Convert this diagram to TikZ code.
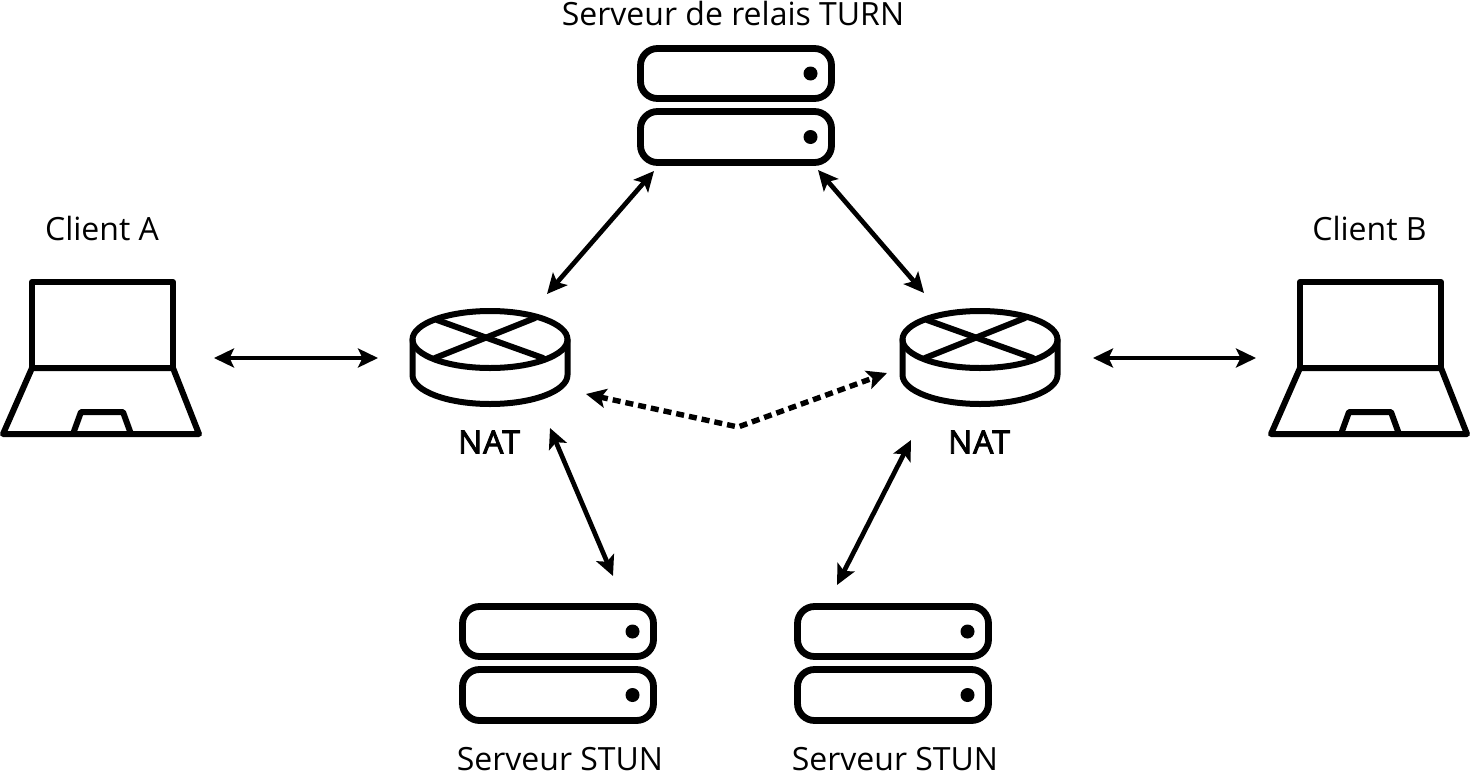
\documentclass[tikz,border=0pt]{standalone}
\usepackage{fontspec}
\setmainfont{Open Sans}
\newfontfamily\natfont[LetterSpace=3]{Open Sans}
\usetikzlibrary{arrows.meta}
\newcommand{\px}{0.75pt}
\newcommand{\heavy}[1]{\special{pdf:code 2 Tr 0.7 w}#1\special{pdf:code 0 Tr 1 w}}
\tikzset{
  icon/.style={line width=6*\px, line join=round, line cap=round, fill=none},
  srvbox/.style={line width=6.8*\px, rounded corners=17*\px},
  link/.style={line width=4.7*\px, black, {Stealth[length=20*\px,width=19*\px,inset=4.5*\px]}-{Stealth[length=20*\px,width=19*\px,inset=4.5*\px]}},
  dashlink/.style={link, line width=5.4*\px, dash pattern=on 8*\px off 5*\px},
  lbl/.style={font=\fontsize{24pt}{28pt}\selectfont, inner sep=0pt, anchor=base},
  natlbl/.style={font=\natfont\fontsize{24pt}{28pt}\selectfont, inner sep=0pt, anchor=base},
}
\newcommand{\laptop}[1]{%
  \begin{scope}[shift={(#1,0)}]
    \draw[icon] (32,368) -- (32,282) -- (173,282) -- (173,368);
    \draw[icon] (32,368) -- (173,368) -- (199,434) -- (3,434) -- cycle;
    \draw[icon] (73,434) -- (81,412) -- (123,412) -- (131,434);
  \end{scope}}
\newcommand{\router}[1]{%
  \begin{scope}[shift={(#1,0)}]
    \draw[icon] (490,339.5) ellipse [x radius=77.5, y radius=28.5];
    \draw[icon] (412.5,339.5) -- (412.5,375) arc [start angle=180, end angle=0, x radius=77.5, y radius=29] -- (567.5,339.5);
    \draw[icon] (437,320) -- (543,358);
    \draw[icon] (435,358) -- (535,318);
  \end{scope}}
\newcommand{\server}[2]{%
  \begin{scope}[shift={(#1,#2)}]
    \draw[srvbox] (640.5,48.5) rectangle (831.5,98.5);
    \draw[srvbox] (640.5,111.5) rectangle (831.5,162.5);
    \fill (810.5,73.5) circle [radius=7];
    \fill (810.5,137) circle [radius=7];
  \end{scope}}
\begin{document}
\begin{tikzpicture}[x=0.75pt,y=-0.75pt]
\useasboundingbox (0,0) rectangle (1470,771);
\laptop{0}
\laptop{1268}
\router{0}
\router{490}
\server{0}{0}
\server{-178}{558}
\server{157}{558}
\node[lbl] (turn) at (733,25) {Serveur de relais TURN};
\node[lbl] (clienta) at (102,240) {Client A};
\node[lbl] (clientb) at (1369.5,240) {Client B};
\node[natlbl] (nata) at (489,453.5) {\heavy{NAT}};
\node[natlbl] (natb) at (979,453.5) {\heavy{NAT}};
\node[lbl] (stuna) at (560,770) {Serveur STUN};
\node[lbl] (stunb) at (895,770) {Serveur STUN};
\coordinate (a1) at (214,358);
\coordinate (a2) at (378,358);
\coordinate (b1) at (1093,358);
\coordinate (b2) at (1256,358);
\coordinate (t1) at (654,171);
\coordinate (t2) at (547,294);
\coordinate (t3) at (818,170);
\coordinate (t4) at (924,293);
\coordinate (s1) at (550,428);
\coordinate (s2) at (613,576);
\coordinate (s3) at (911,440);
\coordinate (s4) at (837,585);
\coordinate (d1) at (586,394);
\coordinate (d2) at (738,427);
\coordinate (d3) at (887,373);
\draw[link] (a1) -- (a2);
\draw[link] (b1) -- (b2);
\draw[link] (t1) -- (t2);
\draw[link] (t3) -- (t4);
\draw[link] (s1) -- (s2);
\draw[link] (s3) -- (s4);
\draw[dashlink] (d1) -- (d2) -- (d3);
\end{tikzpicture}
\end{document}
